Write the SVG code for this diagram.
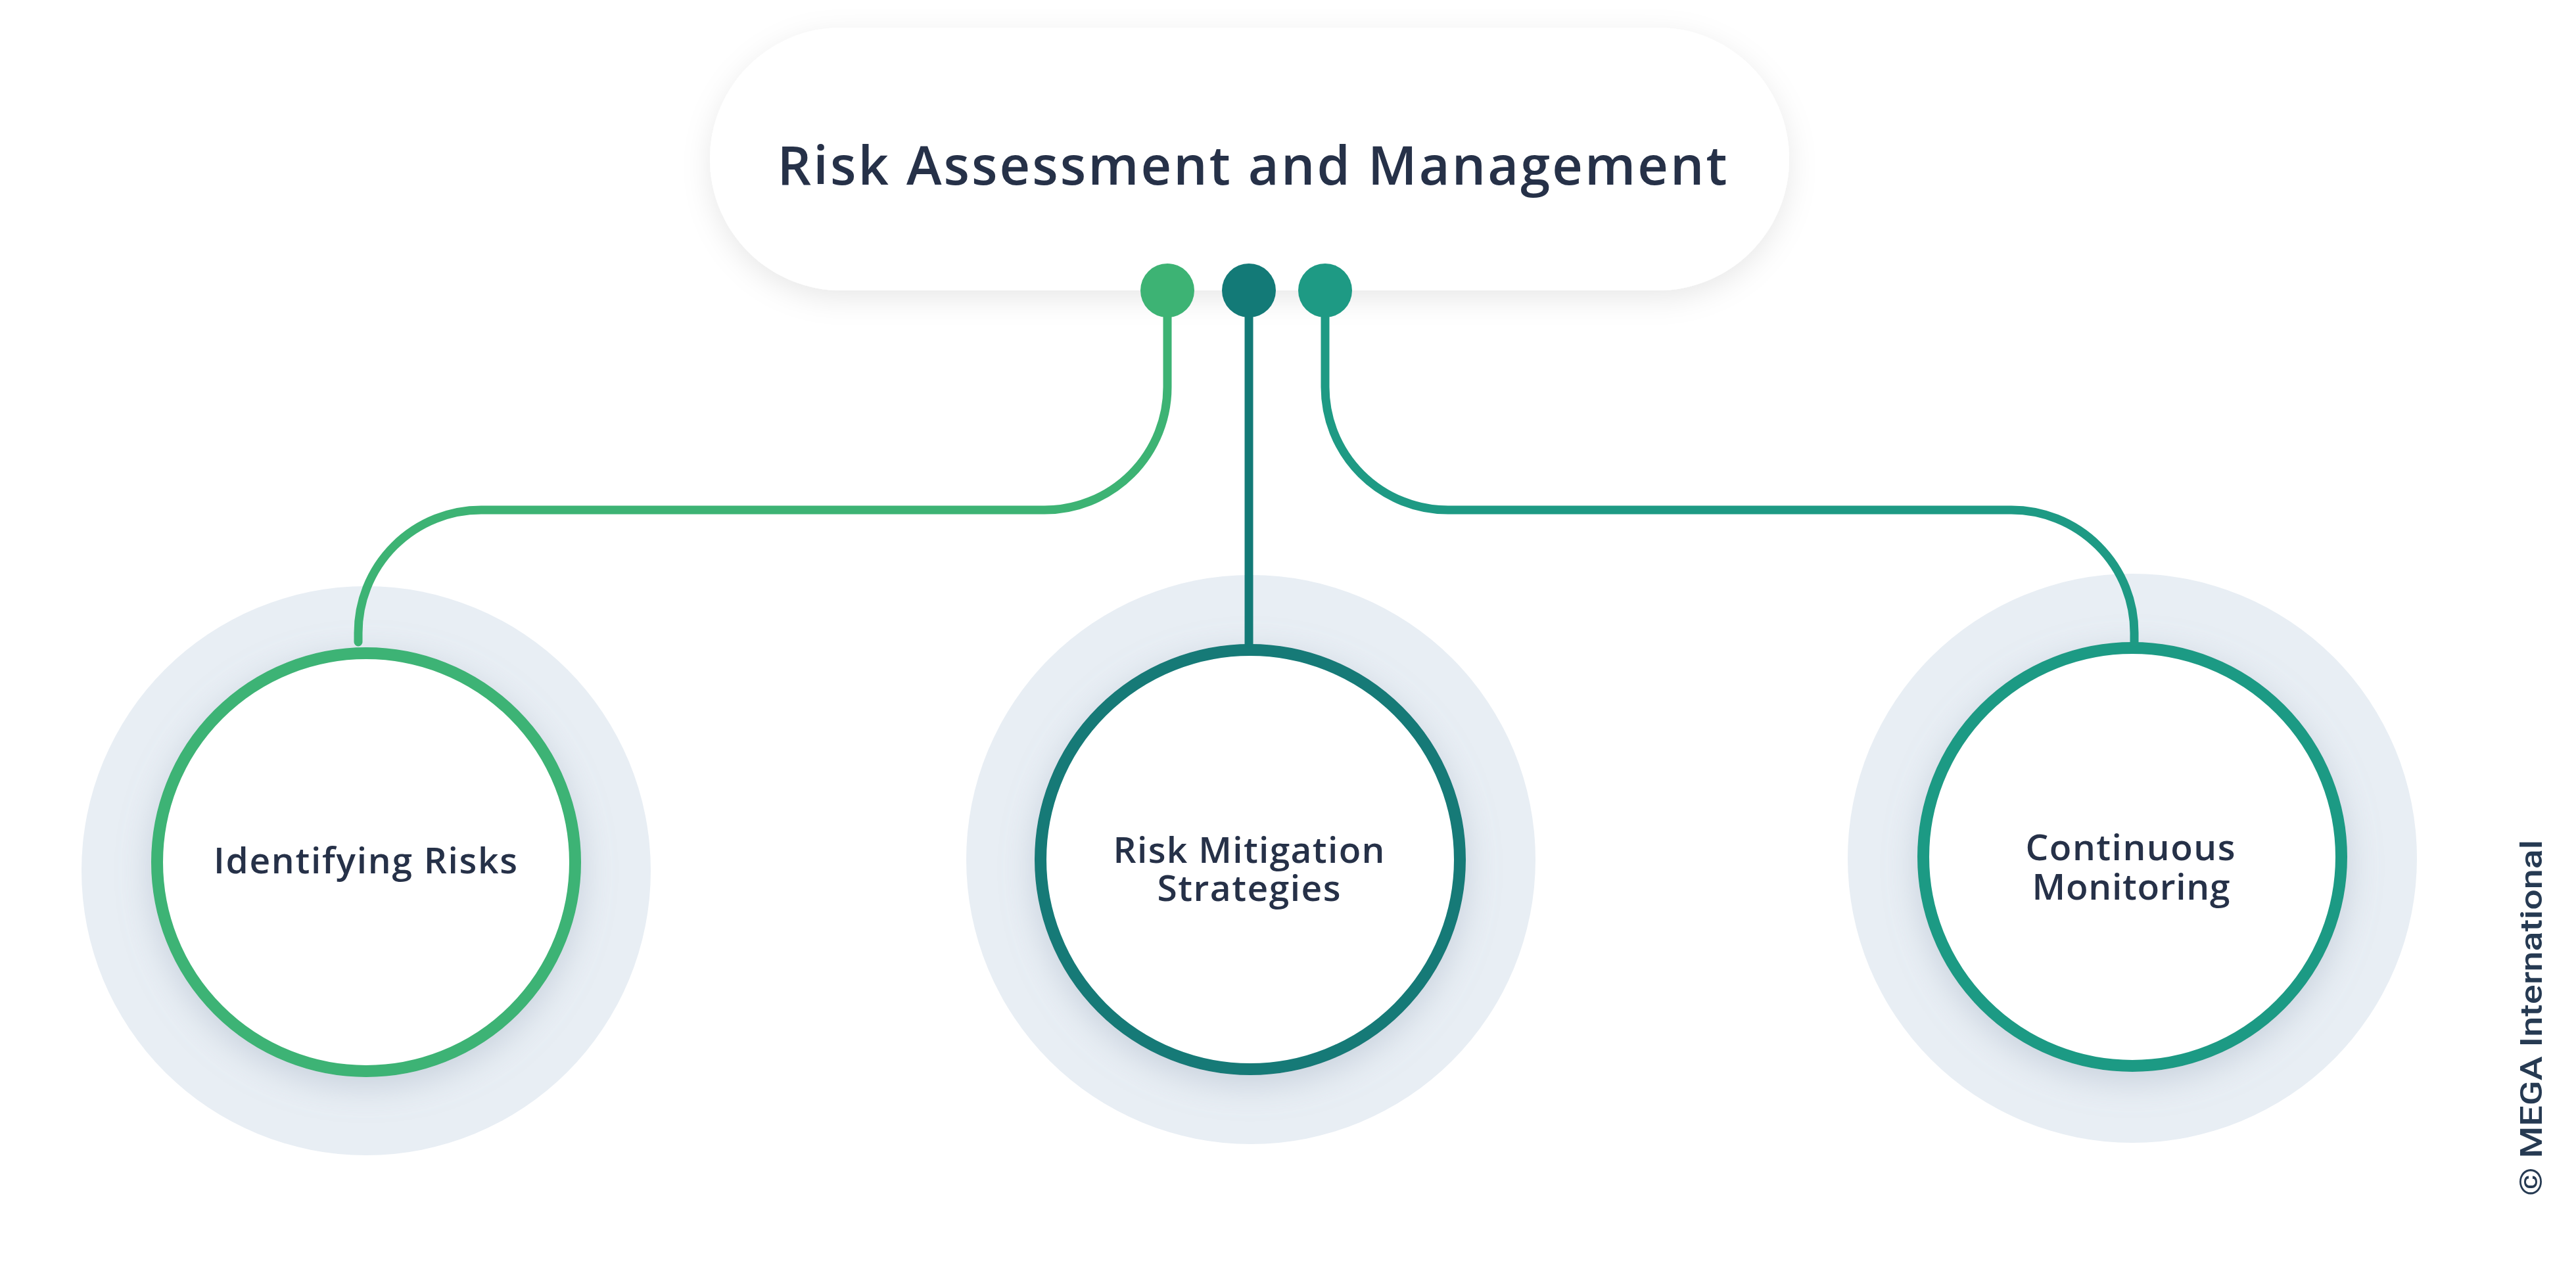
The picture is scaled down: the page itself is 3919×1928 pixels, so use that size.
<svg xmlns="http://www.w3.org/2000/svg" width="3919" height="1928" viewBox="0 0 3919 1928">
  <style>
    .lbl { font-family: "Open Sans", "Noto Sans", sans-serif; font-weight: 600; fill: #263148; text-anchor: middle; }
    .halo { fill: #e8eef4; }
    .core { fill: #ffffff; stroke-width: 18; filter: url(#cshadow); }
    .conn { fill: none; stroke-width: 13; stroke-linecap: round; stroke-linejoin: round; }
    .c1 { stroke: #3db374; } .f1 { fill: #3db374; }
    .c2 { stroke: #137a77; } .f2 { fill: #137a77; }
    .c3 { stroke: #1e9a84; } .f3 { fill: #1e9a84; }
  </style>
  <defs>
    <filter id="pshadow" x="-10%" y="-30%" width="120%" height="170%">
      <feDropShadow dx="0" dy="12" stdDeviation="22" flood-color="#000000" flood-opacity="0.09"/>
    </filter>
    <filter id="cshadow" x="-20%" y="-20%" width="140%" height="150%">
      <feDropShadow dx="0" dy="14" stdDeviation="26" flood-color="#8a9bb0" flood-opacity="0.35"/>
    </filter>
  </defs>
  <rect width="3919" height="1928" fill="#ffffff"/>

  <g id="node-root">
    <rect x="1080" y="42" width="1642" height="400" rx="200" ry="200" fill="#ffffff" filter="url(#pshadow)"/>
    <text class="lbl" x="1905" y="281" font-size="81" textLength="1445">Risk Assessment and Management</text>
  </g>

  <g id="node-identifying">
    <circle class="halo" cx="557" cy="1325" r="433"/>
    <circle class="core c1" cx="557" cy="1312" r="318"/>
    <text class="lbl" x="556" y="1329" font-size="55" textLength="462">Identifying Risks</text>
  </g>

  <g id="node-mitigation">
    <circle class="halo" cx="1903" cy="1308" r="433"/>
    <circle class="core c2" cx="1902" cy="1308" r="319"/>
    <text class="lbl" font-size="55"><tspan x="1900" y="1313" textLength="413">Risk Mitigation</tspan><tspan x="1900" y="1371" textLength="279">Strategies</tspan></text>
  </g>

  <g id="node-monitoring">
    <circle class="halo" cx="3244" cy="1306" r="433"/>
    <circle class="core c3" cx="3244" cy="1304" r="318"/>
    <text class="lbl" font-size="55"><tspan x="3241" y="1309" textLength="319">Continuous</tspan><tspan x="3242" y="1369" textLength="301">Monitoring</tspan></text>
  </g>

  <g id="connectors">
    <path class="conn c1" d="M1776,442 V589 A187,187 0 0 1 1589,776 H732 A187,187 0 0 0 545,963 V977"/>
    <path class="conn c2" d="M1900,442 V980"/>
    <path class="conn c3" d="M2016,442 V589 A187,187 0 0 0 2203,776 H3060 A187,187 0 0 1 3247,963 V977"/>
    <circle class="f1" cx="1776" cy="442" r="41"/>
    <circle class="f2" cx="1900" cy="442" r="41"/>
    <circle class="f3" cx="2016" cy="442" r="41"/>
  </g>

  <text transform="translate(3867,1820) rotate(-90)" font-family="Roboto, 'Liberation Sans', sans-serif" font-weight="500" font-size="47" fill="#263a52" textLength="542" lengthAdjust="spacingAndGlyphs">© MEGA International</text>
</svg>
